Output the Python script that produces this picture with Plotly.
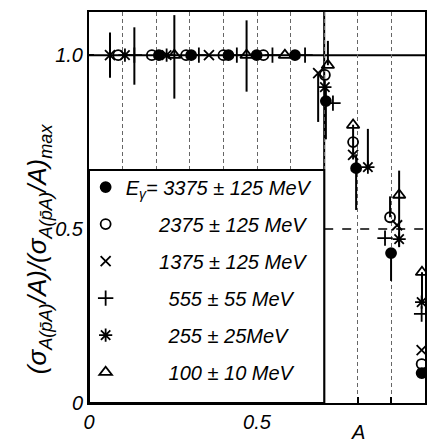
import plotly.graph_objects as go

# ---- data ----
labels = ["E<sub>γ</sub>= 3375 ± 125 MeV",
          "\u2007\u2007\u20072375 ± 125 MeV",
          "\u2007\u2007\u20071375 ± 125 MeV",
          "\u2007\u2007\u2007\u2008\u2009555 ± 55 MeV",
          "\u2007\u2007\u2007\u2008\u2009255 ± 25MeV",
          "\u2007\u2007\u2007\u2008\u2009100 ± 10 MeV"]
symbols = ["circle", "circle-open", "x-thin-open", "cross-thin-open", "asterisk-open", "triangle-up-open"]

a_3375 = [0.208, 0.304, 0.415, 0.499, 0.613, 0.705, 0.795, 0.899, 0.990]
r_3375 = [1.0, 1.0, 1.0, 1.0, 1.0, 0.868, 0.675, 0.431, 0.086]
ep_3375 = [0, 0, 0, 0, 0, 0.04, 0.04, 0.0, 0.0]
em_3375 = [0, 0, 0, 0, 0, 0.11, 0.12, 0.08, 0.0]

a_2375 = [0.087, 0.187, 0.289, 0.400, 0.519, 0.702, 0.786, 0.896, 0.990]
r_2375 = [1.0, 1.0, 1.0, 1.0, 1.0, 0.943, 0.750, 0.534, 0.112]
ep_2375 = [0, 0, 0, 0, 0, 0.0, 0.05, 0.06, 0.0]
em_2375 = [0, 0, 0, 0, 0, 0.0, 0.05, 0.0, 0.0]

a_1375 = [0.0625, 0.357, 0.682, 0.786, 0.917, 0.990]
r_1375 = [1.0, 1.0, 0.948, 0.713, 0.511, 0.152]
ep_1375 = [0.065, 0, 0.0, 0.0, 0.0, 0.0]
em_1375 = [0.065, 0, 0.14, 0.0, 0.0, 0.0]

a_555 = [0.135, 0.327, 0.440, 0.546, 0.643, 0.726, 0.881, 0.990]
r_555 = [1.0, 1.0, 1.0, 1.0, 1.0, 0.862, 0.474, 0.256]
ep_555 = [0.08, 0, 0, 0, 0, 0, 0, 0]
em_555 = [0.085, 0, 0, 0, 0, 0, 0, 0]

a_255 = [0.107, 0.231, 0.702, 0.830, 0.923, 0.990]
r_255 = [1.0, 1.0, 0.908, 0.678, 0.471, 0.290]
ep_255 = [0, 0, 0, 0.11, 0, 0]
em_255 = [0, 0, 0, 0.0, 0, 0]

a_100 = [0.254, 0.469, 0.583, 0.711, 0.786, 0.923, 0.991]
r_100 = [1.0, 1.0, 1.0, 0.971, 0.799, 0.598, 0.376]
ep_100 = [0.115, 0.10, 0, 0.07, 0.0, 0.07, 0.0]
em_100 = [0.125, 0.105, 0, 0.0, 0.0, 0.15, 0.08]

series = [
    (a_3375, r_3375, ep_3375, em_3375),
    (a_2375, r_2375, ep_2375, em_2375),
    (a_1375, r_1375, ep_1375, em_1375),
    (a_555, r_555, ep_555, em_555),
    (a_255, r_255, ep_255, em_255),
    (a_100, r_100, ep_100, em_100),
]
sizes = [10, 10, 10, 11, 11, 11]

x_ticks = [0, 0.1, 0.2, 0.3, 0.4, 0.5, 0.6, 0.7, 0.8, 0.9, 1.0]
x_ticktext = ["0", "", "", "", "", "0.5", "", "", "", "", "1"]
y_ticks = [0, 0.5, 1.0]
y_ticktext = ["0", "0.5", "1.0"]

FONT = "Liberation Sans, Arial, sans-serif"

fig = go.Figure()
for (xs, ys, ep, em), name, sym, sz in zip(series, labels, symbols, sizes):
    fig.add_trace(go.Scatter(
        x=xs, y=ys, mode="markers", name=name, legendgroup=name,
        marker=dict(symbol=sym, size=sz, color="black",
                    line=dict(color="black", width=1.8)),
        error_y=dict(type="data", array=ep, arrayminus=em, symmetric=False,
                     color="black", thickness=2, width=0),
    ))

# frame-internal reference lines and legend box
fig.add_shape(type="rect", xref="x", yref="y", x0=0, x1=0.7, y0=0, y1=0.67,
              fillcolor="white", line=dict(color="black", width=2), layer="above")
fig.add_shape(type="line", xref="x", yref="y", x0=0.7, x1=0.7, y0=0, y1=1.124,
              line=dict(color="black", width=2), layer="below")
fig.add_shape(type="line", xref="x", yref="y", x0=0, x1=1, y0=1.0, y1=1.0,
              line=dict(color="black", width=2), layer="below")
fig.add_shape(type="line", xref="x", yref="y", x0=0.7, x1=1, y0=0.5, y1=0.5,
              line=dict(color="black", width=1.5, dash="dash"), layer="below")

fig.add_annotation(text="(σ<sub>A(p̄A)</sub>/A)/(σ<sub>A(p̄A)</sub>/A)<sub>max</sub>",
                   xref="paper", yref="paper", x=-0.205, y=0.395, textangle=-90,
                   showarrow=False, font=dict(family=FONT, size=26, color="black", style="italic"))
fig.add_annotation(text="A", xref="x", yref="paper", x=0.80, y=-0.074, yanchor="middle",
                   showarrow=False, font=dict(family=FONT, size=20, color="black", style="italic"))

fig.update_layout(
    width=427, height=442,
    margin=dict(l=89, r=2, t=12, b=39),
    paper_bgcolor="white", plot_bgcolor="white",
    font=dict(family=FONT, size=20, color="black", style="italic"),
    showlegend=True,
    legend=dict(x=-0.01, y=0.602, xanchor="left", yanchor="top",
                bgcolor="rgba(0,0,0,0)", borderwidth=0,
                font=dict(family=FONT, size=20, color="black", style="italic"),
                tracegroupgap=8, itemwidth=30),
    xaxis=dict(range=[0, 1.0], tickmode="array", tickvals=x_ticks, ticktext=x_ticktext,
               ticks="inside", ticklen=6, tickwidth=2, tickcolor="black",
               showline=True, linewidth=2, linecolor="black", mirror=True,
               showgrid=True, gridcolor="#666", gridwidth=1.2, griddash="4px,3px",
               zeroline=False, automargin=False,
               tickfont=dict(family=FONT, size=20, color="black", style="italic")),
    yaxis=dict(range=[0, 1.124], tickmode="array", tickvals=y_ticks, ticktext=y_ticktext,
               ticks="inside", ticklen=5, tickwidth=2, tickcolor="black",
               showline=True, linewidth=2, linecolor="black", mirror=True,
               showgrid=False, zeroline=False, automargin=False,
               tickfont=dict(family=FONT, size=20, color="black", style="italic")),
)

fig.write_html("out.html")
